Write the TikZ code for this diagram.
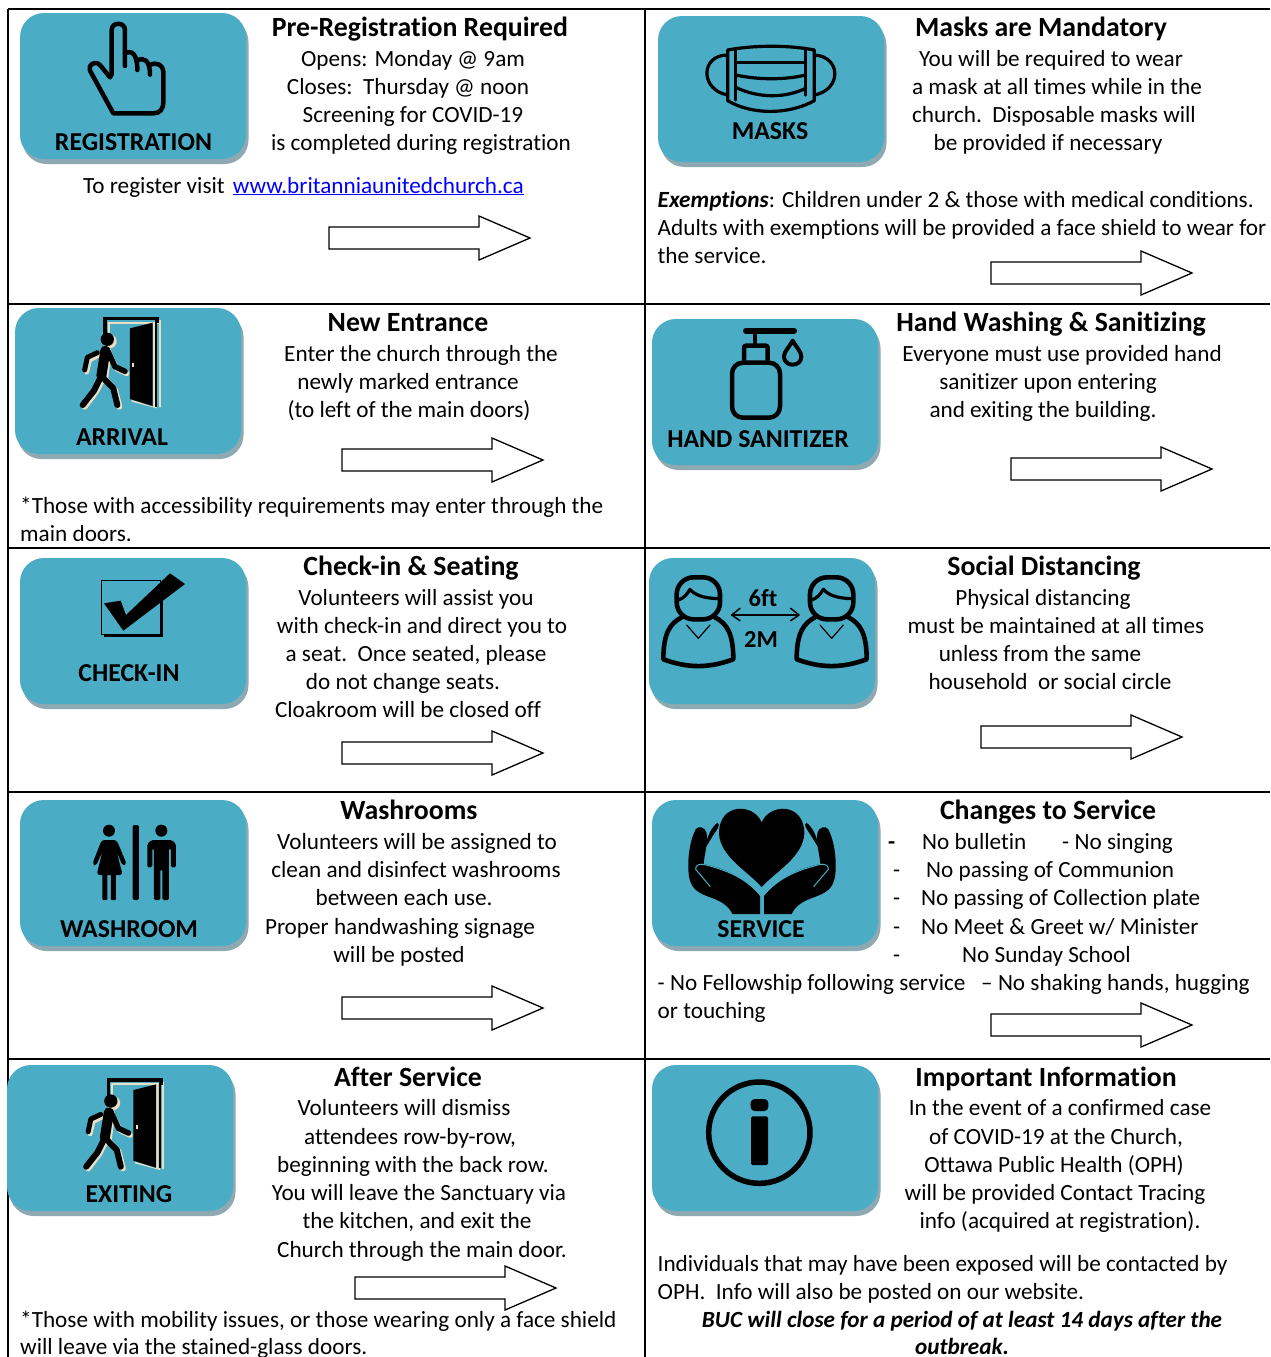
\documentclass[tikz,border=0pt]{standalone}
\usepackage{fontspec}
\setmainfont[Ligatures=NoCommon]{Carlito}
\definecolor{btn}{HTML}{4BACC6}
\definecolor{btnsh}{HTML}{8EA9B1}
\definecolor{cream}{HTML}{EADFC3}
\definecolor{linkblue}{HTML}{0000FF}
\newcounter{tn}
\tikzset{
  body/.style={inner sep=0pt,font=\fontsize{23.2}{27}\selectfont,text=black},
  head/.style={inner sep=0pt,font=\fontsize{27.8}{30}\selectfont\bfseries,text=black},
  lab/.style={inner sep=0pt,font=\fontsize{25.8}{28}\selectfont\bfseries,text=black},
  sublab/.style={inner sep=0pt,font=\fontsize{24.4}{28}\selectfont\bfseries,text=black},
  arrowbox/.style={draw=black,fill=white,line width=1.3pt,line join=miter},
  gridline/.style={draw=black,line width=2pt},
  ic/.style={draw=black,line width=4.5pt,line cap=round,line join=round},
}
% centred line: x, y-centre of the text line
\newcommand\tc[3]{\stepcounter{tn}\node[body,anchor=base] (t\thetn) at (#1,#2+7) {#3};}
\newcommand\tl[3]{\stepcounter{tn}\node[body,anchor=base west] (t\thetn) at (#1,#2+7) {#3};}
\newcommand\hd[3]{\stepcounter{tn}\node[head,anchor=base] (t\thetn) at (#1,#2+9) {#3};}
\newcommand\lb[3]{\stepcounter{tn}\node[lab,anchor=base] (t\thetn) at (#1,#2+8.5) {#3};}
\newcommand\bigarrow[2]{\draw[arrowbox] (#1,#2-11) -- ++(150,0) -- ++(0,-11) -- ++(51,22) -- ++(-51,22) -- ++(0,-11) -- ++(-150,0) -- cycle;}
\newcommand\button[2]{%
  \fill[btnsh,rounded corners=24pt] (#1+2.5,#2+5) rectangle (#1+228.5,#2+151);
  \fill[btn,rounded corners=24pt] (#1,#2) rectangle (#1+226,#2+146);}
\newcommand\walker{%
  \begin{scope}[cream,line cap=round,line join=round]
    \draw[line width=2pt] (325,68) -- (478,68); \draw[line width=2pt] (480,62) -- (480,320);
    \draw[line width=2pt] (326,70) -- (326,102);
    \fill (395,300) -- (465,322) -- (465,72) -- (470,72) -- (470,325) -- (395,305) -- cycle;
    \fill (329,124) circle (21);
    \draw[line width=5.5pt] (326,160) -- (350,206) -- (380,220);
    \draw[line width=5pt] (296,165) -- (268,180) -- (260,216);
    \draw[line width=10pt] (320,155) -- (310,232);
    \draw[line width=6pt] (310,232) -- (288,275) -- (254,320);
    \draw[line width=6pt] (310,232) -- (345,270) -- (358,320);
  \end{scope}
  \draw[black,line width=3.5pt] (315,102) -- (315,55) -- (472,55) -- (472,70);
  \fill[black] (466,60) rectangle (472,320);
  \fill[cream] (459,70) rectangle (465,322);
  \fill[black] (390,85) -- (458,68) -- (458,318) -- (390,297) -- cycle;
  \fill[cream] (397,190) rectangle (403,202);
  \begin{scope}[black,line cap=round,line join=round]
    \fill (322,118) circle (20);
    \draw[line width=5.5pt] (322,150) -- (345,200) -- (375,214);
    \draw[line width=5pt] (292,158) -- (262,172) -- (254,210);
    \draw[line width=10pt] (316,152) -- (304,228);
    \draw[line width=6pt] (304,228) -- (282,272) -- (248,315);
    \draw[line width=6pt] (304,228) -- (340,265) -- (352,315);
  \end{scope}}
\newcommand\person{%
  \draw[ic,line width=4.6pt,rounded corners=17pt] (95,832) rectangle (225,958);
  \draw[ic,line width=3.2pt] (100,900) .. controls (115,895) and (125,885) .. (135,868) .. controls (150,885) and (175,895) .. (222,896);
  \draw[ic,line width=4.6pt] (110,952) .. controls (75,970) and (55,1000) .. (55,1078) .. controls (130,1105) and (190,1105) .. (265,1078) .. controls (265,1000) and (245,970) .. (210,952);
  \draw[ic,line width=1.2pt] (125,975) -- (160,1015) -- (195,975);}
\begin{document}
\begin{tikzpicture}[x=1pt,y=-1pt]
\useasboundingbox (0,0) rectangle (1270,1357);
% grid
\draw[gridline] (8,9) -- (1270,9);
\draw[gridline] (8,304) -- (1270,304);
\draw[gridline] (8,548) -- (1270,548);
\draw[gridline] (8,792) -- (1270,792);
\draw[gridline] (8,1059) -- (1270,1059);
\draw[gridline] (8,9) -- (8,1357);
\draw[gridline] (645,9) -- (645,1357);
% buttons
\button{20}{13}\button{658}{16}\button{15}{308}\button{652}{319}\button{20}{558}
\button{649}{558}\button{20}{800}\button{652}{800}\button{7}{1065}\button{652}{1065}
% arrows
\bigarrow{329}{238}\bigarrow{991}{273}\bigarrow{342}{460}\bigarrow{1011}{469}\bigarrow{342}{753}
\bigarrow{981}{737}\bigarrow{342}{1008}\bigarrow{991}{1025}\bigarrow{355}{1288}
% REGISTRATION icon
\begin{scope}[scale=1/3]
  \draw[ic] (335,222) -- (335,90) .. controls (335,65) and (375,65) .. (375,90) -- (375,198);
  \draw[ic] (375,160) .. controls (395,150) and (412,160) .. (412,210);
  \draw[ic] (412,182) .. controls (430,170) and (450,180) .. (450,224);
  \draw[ic] (450,195) .. controls (470,185) and (490,195) .. (490,215) -- (490,305) .. controls (490,328) and (480,340) .. (460,340) -- (340,340) -- (270,212) .. controls (262,195) and (285,180) .. (300,195) -- (330,232) -- (335,222);
\end{scope}
% MASKS icon
\begin{scope}[shift={(645,0)},scale=1/3]
  \draw[ic,line width=3.2pt] (248,150) .. controls (330,135) and (430,135) .. (508,150) -- (508,302) .. controls (430,345) and (320,345) .. (248,302) -- cycle;
  \draw[ic,line width=3.2pt] (272,150) -- (272,300);
  \draw[ic,line width=3.2pt] (482,150) -- (482,285);
  \draw[ic,line width=3.2pt] (272,188) -- (482,188);
  \draw[ic,line width=3.2pt] (272,225) .. controls (340,240) and (420,240) .. (482,225);
  \draw[ic,line width=3.2pt] (272,262) .. controls (340,295) and (420,295) .. (482,265);
  \draw[ic,line width=3.2pt] (248,165) .. controls (165,165) and (165,270) .. (248,285);
  \draw[ic,line width=3.2pt] (508,165) .. controls (590,170) and (590,270) .. (508,285);
\end{scope}
% ARRIVAL + EXITING icons
\begin{scope}[shift={(0,300)},scale=1/3]\walker\end{scope}
\begin{scope}[shift={(3.5,1061.7)},scale=1/3]\walker\end{scope}
% SANITIZER icon
\begin{scope}[shift={(645,300)},scale=1/3]
  \draw[ic,line width=6pt] (303,92) -- (447,92);
  \draw[ic] (330,92) -- (330,135);
  \draw[ic,rounded corners=2pt] (297,178) -- (297,137) -- (368,137) -- (368,178);
  \draw[ic,rounded corners=11pt] (261,188) rectangle (405,353);
  \draw[ic,line width=4pt] (443,122) .. controls (430,145) and (417,155) .. (417,170) .. controls (417,202) and (469,202) .. (469,170) .. controls (469,155) and (456,145) .. (443,122) -- cycle;
\end{scope}
% CHECK-IN icon
\begin{scope}[shift={(0,300)},scale=1/3]
  \draw[black,line width=1.5pt] (305,842) rectangle (482,1003);
  \draw[black,line width=3pt] (312,1006) -- (486,1006) -- (486,900);
  \fill[black] (312,910) -- (362,902) -- (378,945) -- (510,820) -- (555,852) -- (370,992) -- cycle;
\end{scope}
% SOCIAL icon
\begin{scope}[shift={(645,300)},scale=1/3]
  \person
  \begin{scope}[shift={(400,0)}]\person\end{scope}
  \draw[black,line width=1.5pt,line cap=round,line join=round] (285,925) -- (260,945) -- (285,962);
  \draw[black,line width=1.5pt,line cap=round,line join=round] (437,925) -- (462,945) -- (437,962);
  \draw[black,line width=1.5pt] (260,945) -- (462,945);
\end{scope}
\stepcounter{tn}\node[sublab,anchor=base] (t\thetn) at (763,606) {6ft};
\stepcounter{tn}\node[sublab,anchor=base] (t\thetn) at (761,647) {2M};
% WASHROOM icon
\begin{scope}[shift={(0,790)},scale=1/3]
  \fill[black] (327,122) circle (18);
  \fill[black,rounded corners=3pt] (305,150) -- (350,150) -- (380,222) -- (368,228) -- (350,185) -- (368,255) -- (290,255) -- (307,185) -- (288,228) -- (277,222) -- cycle;
  \fill[black,rounded corners=1pt] (307,250) rectangle (322,330);
  \fill[black,rounded corners=1pt] (333,250) rectangle (348,330);
  \fill[black,rounded corners=2pt] (398,105) rectangle (417,330);
  \fill[black] (484,122) circle (18);
  \fill[black,rounded corners=1.5pt] (455,150) -- (515,150) -- (528,162) -- (528,232) -- (513,232) -- (513,175) -- (507,175) -- (507,330) -- (487,330) -- (487,238) -- (481,238) -- (481,330) -- (462,330) -- (462,175) -- (457,175) -- (457,232) -- (442,232) -- (442,162) -- cycle;
\end{scope}
% SERVICE icon
\newcommand\handshape{%
  \fill[black] (262,372) .. controls (250,345) and (225,332) .. (190,320) .. controls (150,305) and (138,290) .. (132,260) .. controls (125,210) and (135,150) .. (152,118) .. controls (160,105) and (182,112) .. (185,130) .. controls (188,165) and (178,195) .. (176,222) .. controls (235,235) and (300,260) .. (345,318) -- (345,372) -- cycle;
  \fill[black] (180,176) .. controls (185,140) and (200,110) .. (218,98) .. controls (228,105) and (215,120) .. (205,135) -- cycle;
  \draw[btn,line width=1pt] (196,290) -- (152,238) .. controls (150,225) and (165,220) .. (180,224) .. controls (240,240) and (300,260) .. (348,318);}
\begin{scope}[shift={(645,790)},scale=1/3]
  \handshape
  \begin{scope}[cm={-1,0,0,1,(702,0)}]\handshape\end{scope}
  \fill[black] (350,97) .. controls (325,38) and (222,38) .. (222,130) .. controls (225,200) and (310,245) .. (350,291) .. controls (392,245) and (475,200) .. (478,130) .. controls (478,38) and (375,38) .. (350,97) -- cycle;
\end{scope}
% INFO icon
\begin{scope}[shift={(645,1055)},scale=1/3]
  \draw[black,line width=5.5pt] (343,233) circle (152);
  \fill[black,rounded corners=4pt] (317,132) rectangle (370,168);
  \fill[black,rounded corners=1.5pt] (318,184) rectangle (369,330);
\end{scope}
% button labels
\lb{133.5}{142}{REGISTRATION}
\lb{770}{131}{MASKS}
\lb{122}{437}{ARRIVAL}
\lb{758}{439}{HAND SANITIZER}
\lb{129}{673}{CHECK-IN}
\lb{129}{929}{WASHROOM}
\lb{761}{929}{SERVICE}
\lb{129}{1194}{EXITING}
% texts
\hd{420}{27}{Pre-Registration Required}
\tc{413}{59}{Opens: Monday @ 9am}
\tc{408}{87}{Closes:\ \ Thursday @ noon}
\tc{413}{115}{Screening for COVID-19}
\tc{421}{143}{is completed during registration}
\tl{83}{186}{To register visit\hspace{3pt} \textcolor{linkblue}{\underline{www.britanniaunitedchurch.ca}}}
\hd{1041}{27}{Masks are Mandatory}
\tc{1051}{59}{You will be required to wear}
\tc{1057}{87}{a mask at all times while in the}
\tc{1054}{115}{church.\ \ Disposable masks will}
\tc{1048}{143}{be provided if necessary}
\tl{657.5}{200}{\textbf{\textit{Exemptions}}: Children under 2 \& those with medical conditions.}
\tl{657.5}{228}{Adults with exemptions will be provided a face shield to wear for}
\tl{657.5}{256}{the service.}
\hd{408}{322}{New Entrance}
\tc{421}{354}{Enter the church through the}
\tc{408}{382}{newly marked entrance}
\tc{409}{410}{(to left of the main doors)}
\tl{20}{506}{*Those with accessibility requirements may enter through the}
\tl{20}{534}{main doors.}
\hd{1051}{322}{Hand Washing \& Sanitizing}
\tc{1062}{354}{Everyone must use provided hand}
\tc{1048}{382}{sanitizer upon entering}
\tc{1043}{410}{and exiting the building.}
\hd{411}{566}{Check-in \& Seating}
\tc{416}{598}{Volunteers will assist you}
\tc{422}{626}{with check-in and direct you to}
\tc{416}{654}{a seat.\ \ Once seated, please}
\tc{403}{682}{do not change seats.}
\tc{408}{710}{Cloakroom will be closed off}
\hd{1044}{566}{Social Distancing}
\tc{1043}{598}{Physical distancing}
\tc{1056}{626}{must be maintained at all times}
\tc{1040}{654}{unless from the same}
\tc{1050}{682}{household\ \ or social circle}
\hd{409}{810}{Washrooms}
\tc{417}{842}{Volunteers will be assigned to}
\tc{416}{870}{clean and disinfect washrooms}
\tc{404}{898}{between each use.}
\tc{400}{927}{Proper handwashing signage}
\tc{399}{955}{will be posted}
\hd{1048}{810}{Changes to Service}
\tl{888}{842}{\textbf{-}}
\tl{922}{842}{No bulletin}
\tl{1062}{842}{- No singing}
\tl{893}{870}{-}\tl{926}{870}{No passing of Communion}
\tl{893}{898}{-}\tl{921}{898}{No passing of Collection plate}
\tl{893}{927}{-}\tl{921}{927}{No Meet \& Greet w/ Minister}
\tl{893}{955}{-}\tl{962}{955}{No Sunday School}
\tl{657.5}{983}{- No Fellowship following service}
\tl{981}{983}{– No shaking hands, hugging}
\tl{657.5}{1011}{or touching}
\hd{408}{1077}{After Service}
\tc{404}{1108}{Volunteers will dismiss}
\tc{410}{1137}{attendees row-by-row,}
\tc{413}{1165}{beginning with the back row.}
\tc{419}{1193}{You will leave the Sanctuary via}
\tc{417}{1221}{the kitchen, and exit the}
\tc{422}{1250}{Church through the main door.}
\tl{20}{1320}{*Those with mobility issues, or those wearing only a face shield}
\tl{20}{1347}{will leave via the stained-glass doors.}
\hd{1046}{1077}{Important Information}
\tc{1060}{1108}{In the event of a confirmed case}
\tc{1056}{1137}{of COVID-19 at the Church,}
\tc{1054}{1165}{Ottawa Public Health (OPH)}
\tc{1055}{1193}{will be provided Contact Tracing}
\tc{1060}{1221}{info (acquired at registration).}
\tl{657.5}{1264}{Individuals that may have been exposed will be contacted by}
\tl{657.5}{1292}{OPH.\ \ Info will also be posted on our website.}
\tc{962}{1320}{\textbf{\textit{BUC will close for a period of at least 14 days after the}}}
\tc{962}{1347}{\textbf{\textit{outbreak.}}}
\end{tikzpicture}
\end{document}
